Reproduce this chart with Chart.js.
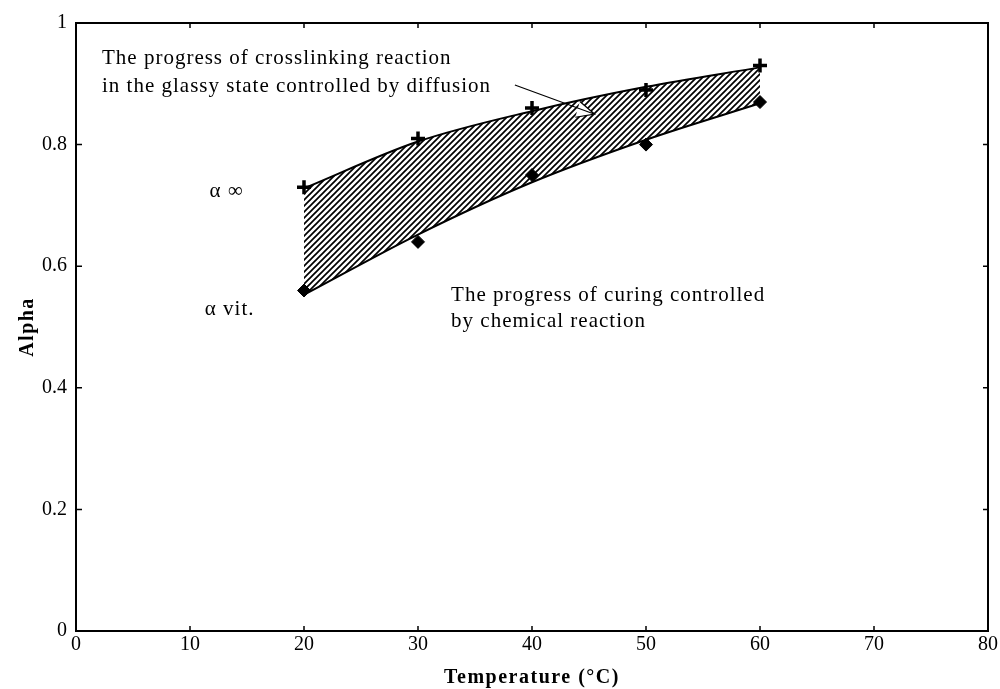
<!DOCTYPE html>
<html>
<head>
<meta charset="utf-8">
<script src="https://cdn.jsdelivr.net/npm/chart.js@4"></script>
<style>
html, body { margin: 0; padding: 0; background: #fff; }
#wrap { width: 1000px; height: 689px; }
</style>
</head>
<body>
<div id="wrap"><canvas id="grafico"></canvas></div>
<script>
// data
const temperatures = [20, 30, 40, 50, 60];
const alphaInf = [0.73, 0.81, 0.86, 0.89, 0.93];
const alphaVit = [0.56, 0.64, 0.75, 0.80, 0.87];
const upperCurve = [0.728, 0.805, 0.855, 0.895, 0.927];
const lowerCurve = [0.553, 0.652, 0.738, 0.808, 0.868];
const xTicks = [0, 10, 20, 30, 40, 50, 60, 70, 80];
const yTicks = [0, 0.2, 0.4, 0.6, 0.8, 1];

const SERIF = "'Liberation Serif', 'Times New Roman', serif";

function pts(xs, ys) {
    return xs.map((x, i) => ({ x: x, y: ys[i] }));
}

// diagonal hatch
function hatch() {
    const c = document.createElement("canvas");
    const s = 6;
    c.width = s; c.height = s;
    const g = c.getContext("2d");
    g.strokeStyle = "#000";
    g.lineWidth = 1.7;
    g.beginPath();
    g.moveTo(-1, s + 1); g.lineTo(s + 1, -1);
    g.moveTo(-1, 1); g.lineTo(1, -1);
    g.moveTo(s - 1, s + 1); g.lineTo(s + 1, s - 1);
    g.stroke();
    return g.createPattern(c, "repeat");
}

const notes = [
    { text: "The progress of crosslinking reaction", x: 2.28, y: 0.933 },
    { text: "in the glassy state controlled by diffusion", x: 2.28, y: 0.887 },
    { text: "The progress of curing controlled", x: 32.9, y: 0.543 },
    { text: "by chemical reaction", x: 32.9, y: 0.500 },
    { text: "\u03b1 \u221e", x: 11.7, y: 0.714 },
    { text: "\u03b1 vit.", x: 11.3, y: 0.520 }
];

const frame = {
    id: "frame",
    afterDatasetsDraw(chart) {
        const ctx = chart.ctx;
        const a = chart.chartArea;
        const sx = chart.scales.x, sy = chart.scales.y;
        ctx.save();

        // arrow
        const p = (x, y) => [sx.getPixelForValue(x), sy.getPixelForValue(y)];
        const tip = p(45.5, 0.850), h1 = p(44.2, 0.871), h2 = p(43.8, 0.845), st = p(38.5, 0.898);
        ctx.fillStyle = "#fff";
        ctx.beginPath();
        ctx.moveTo(tip[0], tip[1]); ctx.lineTo(h1[0], h1[1]); ctx.lineTo(h2[0], h2[1]); ctx.closePath();
        ctx.fill();
        ctx.strokeStyle = "#000";
        ctx.lineWidth = 1.2;
        ctx.beginPath();
        ctx.moveTo(st[0], st[1]); ctx.lineTo(tip[0], tip[1]);
        ctx.moveTo(h1[0], h1[1]); ctx.lineTo(tip[0], tip[1]); ctx.lineTo(h2[0], h2[1]);
        ctx.stroke();

        // box and inward ticks
        ctx.lineWidth = 2;
        ctx.strokeRect(a.left, a.top, a.right - a.left, a.bottom - a.top);
        ctx.lineWidth = 1.5;
        ctx.beginPath();
        xTicks.forEach(v => {
            const x = sx.getPixelForValue(v);
            ctx.moveTo(x, a.bottom); ctx.lineTo(x, a.bottom - 5);
            ctx.moveTo(x, a.top); ctx.lineTo(x, a.top + 5);
        });
        yTicks.forEach(v => {
            const y = sy.getPixelForValue(v);
            ctx.moveTo(a.left, y); ctx.lineTo(a.left + 6, y);
            ctx.moveTo(a.right, y); ctx.lineTo(a.right - 5, y);
        });
        ctx.stroke();

        // text
        ctx.fillStyle = "#000";
        ctx.font = "21px " + SERIF;
        ctx.letterSpacing = "1px";
        ctx.textBaseline = "alphabetic";
        ctx.textAlign = "left";
        notes.forEach(n => {
            ctx.fillText(n.text, sx.getPixelForValue(n.x), sy.getPixelForValue(n.y));
        });

        // axis titles
        ctx.font = "bold 20px " + SERIF;
        ctx.letterSpacing = "1.5px";
        ctx.textAlign = "center";
        ctx.fillText("Temperature (\u00b0C)", (a.left + a.right) / 2, 683);
        ctx.translate(33, (a.top + a.bottom) / 2);
        ctx.rotate(-Math.PI / 2);
        ctx.fillText("Alpha", 0, 0);
        ctx.restore();
    }
};

new Chart(document.getElementById("grafico"), {
    type: "scatter",
    data: {
        datasets: [
            {
                type: "line",
                data: pts(temperatures, upperCurve),
                borderColor: "#000",
                borderWidth: 2,
                pointRadius: 0,
                cubicInterpolationMode: "monotone",
                fill: "+1",
                backgroundColor: hatch()
            },
            {
                type: "line",
                data: pts(temperatures, lowerCurve),
                borderColor: "#000",
                borderWidth: 2,
                pointRadius: 0,
                cubicInterpolationMode: "monotone",
                fill: false
            },
            {
                data: pts(temperatures, alphaInf),
                pointStyle: "cross",
                pointRadius: 7,
                borderColor: "#000",
                borderWidth: 3.5
            },
            {
                data: pts(temperatures, alphaVit),
                pointStyle: "rectRot",
                pointRadius: 6.5,
                backgroundColor: "#000",
                borderColor: "#000",
                borderWidth: 1
            }
        ]
    },
    options: {
        responsive: true,
        maintainAspectRatio: false,
        animation: false,
        layout: { padding: { left: 0, right: 12, top: 23, bottom: 0 } },
        plugins: {
            legend: { display: false },
            tooltip: { enabled: false }
        },
        scales: {
            x: {
                type: "linear",
                min: 0,
                max: 80,
                afterBuildTicks: s => { s.ticks = xTicks.map(v => ({ value: v })); },
                afterFit: s => { s.height = 58; },
                grid: { display: false, drawTicks: false },
                border: { display: false },
                ticks: { color: "#000", padding: 2, font: { family: SERIF, size: 20 } }
            },
            y: {
                min: 0,
                max: 1,
                afterBuildTicks: s => { s.ticks = yTicks.map(v => ({ value: v })); },
                afterFit: s => { s.width = 76; },
                grid: { display: false, drawTicks: false },
                border: { display: false },
                ticks: {
                    color: "#000",
                    padding: 9,
                    font: { family: SERIF, size: 20 },
                    callback: v => String(v)
                }
            }
        }
    },
    plugins: [frame]
});
</script>
</body>
</html>
